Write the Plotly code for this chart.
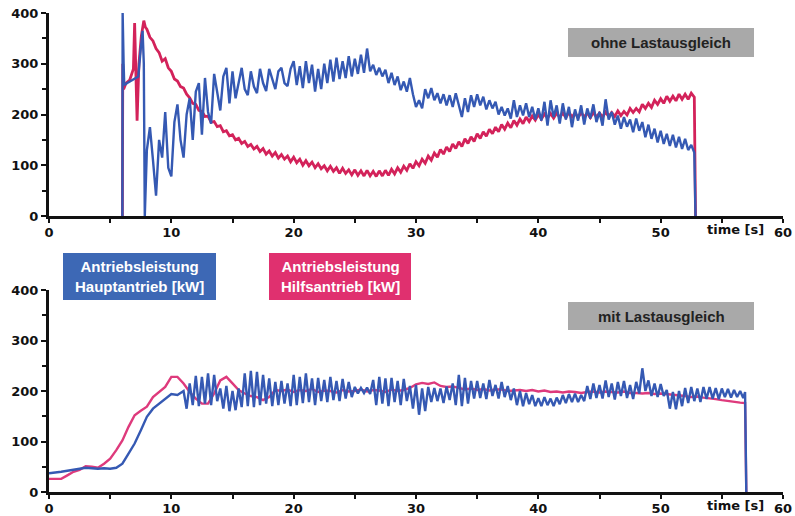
import plotly.graph_objects as go

# ---------------- data ----------------
# Top panel (ohne Lastausgleich)
top_blue_start_t = [6.0, 6.02, 6.1, 6.15, 6.4, 6.7, 7.0, 7.3, 7.5, 7.65, 7.75, 7.83]
top_blue_start_y = [0, 400, 300, 258, 262, 266, 270, 275, 330, 365, 300, 0]
# sampled every 0.25 s from 8.0 s
top_blue_main = [
    130, 175, 110, 40,   150, 115, 205, 95,   78, 185, 220, 150,
    115, 200, 232, 150,  245, 262, 160, 272,  205, 182, 280, 240,
    208, 275, 292, 222,  285, 232, 262, 292,  250, 238, 285, 255,
    242, 290, 262, 246,  290, 268, 250, 285,  292, 262, 256, 290,
    305, 258, 295, 252,  305, 262, 298, 245,  290, 250, 300, 262,
    308, 265, 312, 270,  305, 272, 315, 275,  310, 280, 318, 282,
    330, 285, 298, 278,  292, 275, 288, 262,  282, 258, 275, 248,
    265, 245, 272, 240,  215, 228, 212, 250,  232, 252, 228, 242,
    222, 240, 218, 238,  215, 242, 220, 195,  232, 205, 238, 215,
    240, 218, 235, 210,  228, 212, 225, 200,  215, 198, 212, 192,
    228, 195, 218, 198,  222, 195, 215, 190,  212, 188, 225, 178,
    228, 195, 218, 182,  222, 190, 215, 175,  210, 188, 218, 180,
    212, 192, 220, 185,  205, 178, 230, 190,  205, 180, 198, 172,
    195, 176, 190, 165,  192, 168, 185, 155,  180, 152, 172, 145,
    168, 142, 162, 138,  160, 135, 156, 132,  152, 130, 140, 125,
]
top_blue_end_t = [52.85]
top_blue_end_y = [0]

top_pink_start_t = [6.0, 6.03, 6.1, 6.3, 6.6, 6.9, 7.0, 7.1, 7.2, 7.35, 7.55, 7.75, 7.88]
top_pink_start_y = [0, 300, 250, 262, 268, 290, 380, 300, 188, 300, 355, 385, 372]
top_pink_main = [
    368, 352, 345, 330,  322, 305, 310, 292,  285, 270, 266, 255,
    252, 240, 233, 222,  220, 208, 206, 196,  197, 185, 186, 176,
    178, 166, 168, 158,  160, 150, 153, 143,  147, 137, 141, 132,
    137, 127, 133, 122,  128, 118, 125, 114,  121, 112, 118, 107,
    116, 105, 112, 100,  109, 99, 106, 95,    103, 93, 99, 89,
    98, 88, 95, 84,      94, 84, 91, 81,      91, 80, 89, 79,
    90, 79, 88, 78,      89, 79, 90, 80,      92, 83, 95, 86,
    98, 90, 103, 94,     107, 99, 112, 104,   118, 110, 124, 116,
    131, 122, 136, 127,  142, 133, 146, 137,  152, 143, 156, 147,
    162, 153, 166, 157,  171, 162, 175, 166,  180, 171, 183, 174,
    188, 179, 191, 182,  195, 186, 197, 189,  200, 191, 201, 193,
    202, 193, 203, 194,  203, 194, 204, 195,  203, 194, 204, 195,
    203, 194, 204, 195,  203, 195, 205, 196,  204, 196, 207, 198,
    206, 199, 212, 204,  212, 205, 220, 212,  222, 214, 228, 220,
    231, 222, 236, 226,  236, 227, 240, 230,  240, 230, 242, 234,
]
top_pink_end_t = [52.85]
top_pink_end_y = [0]

# Bottom panel (mit Lastausgleich)
# sampled every 0.5 s from 0 s
bot_blue_start = [37, 38, 40, 42, 44, 47, 48, 47, 46, 47, 46,
                  48, 56, 76, 96, 122, 149, 165, 175, 185, 194, 192]
# sampled every 0.25 s from 11.0 s
bot_blue_main = [
    200, 165, 215, 172,  230, 170, 228, 175,  235, 172, 232, 180,
    205, 165, 210, 160,  200, 162, 205, 168,  235, 170, 240, 168,
    238, 172, 232, 175,  225, 170, 218, 172,  220, 175, 215, 170,
    232, 172, 228, 176,  235, 178, 225, 172,  226, 180, 222, 178,
    228, 182, 220, 180,  224, 185, 218, 188,  208, 195, 206, 196,
    207, 194, 222, 172,  228, 175, 225, 170,  226, 178, 220, 172,
    224, 180, 210, 165,  212, 153, 205, 160,  208, 178, 206, 180,
    205, 176, 209, 182,  215, 172, 232, 170,  226, 175, 220, 185,
    220, 186, 215, 184,  222, 190, 212, 185,  218, 188, 210, 182,
    205, 172, 200, 170,  196, 174, 192, 170,  186, 170, 188, 172,
    185, 170, 187, 174,  192, 176, 194, 178,  195, 178, 192, 180,
    210, 184, 215, 186,  212, 185, 221, 188,  215, 183, 218, 190,
    220, 186, 212, 184,  218, 195, 245, 200,  221, 190, 215, 188,
    214, 190, 202, 165,  198, 164, 200, 170,  206, 176, 208, 180,
    205, 178, 208, 184,  208, 185, 206, 184,  205, 188, 204, 187,
    202, 188, 200, 186,
]
bot_blue_end_t = [56.9, 57.0]
bot_blue_end_y = [198, 0]

# sampled every 0.5 s from 0 s
bot_pink_main = [
    26, 26, 26, 33, 40, 44, 51, 50, 48, 56, 66, 83, 102, 129, 152, 161,
    169, 188, 198, 208, 228, 228, 215, 198, 185, 175, 175, 195, 221, 228,
    215, 202, 195, 190, 188, 182, 188, 202, 200, 203, 198, 202, 200, 204,
    198, 201, 200, 197, 202, 199, 200, 203, 199, 202, 201, 198, 203, 200,
    202, 206, 213, 216, 214, 217, 210, 208, 209, 206, 203, 205, 202, 204,
    201, 203, 203, 200, 201, 202, 200, 202, 199, 201, 198, 199, 197, 199,
    198, 196, 198, 199, 197, 199, 198, 197, 199, 196, 196, 195, 196, 194,
    195, 194, 193, 192, 190, 188, 189, 187, 186, 184, 182, 180, 179, 177,
]
bot_pink_end_t = [56.9, 57.0]
bot_pink_end_y = [176, 0]

x_tick_vals = [0, 10, 20, 30, 40, 50, 60]
x_tick_text = ["0", "10", "20", "30", "40", "50", "60"]
y_tick_vals = [0, 100, 200, 300, 400]

# ---------------- series assembly ----------------
def grid(t0, dt, n):
    return [t0 + dt * i for i in range(n)]

tb_x = top_blue_start_t + grid(8.0, 0.25, len(top_blue_main)) + top_blue_end_t
tb_y = top_blue_start_y + top_blue_main + top_blue_end_y
tp_x = top_pink_start_t + grid(8.0, 0.25, len(top_pink_main)) + top_pink_end_t
tp_y = top_pink_start_y + top_pink_main + top_pink_end_y
bb_x = grid(0.0, 0.5, len(bot_blue_start)) + grid(11.0, 0.25, len(bot_blue_main)) + bot_blue_end_t
bb_y = bot_blue_start + bot_blue_main + bot_blue_end_y
bp_x = grid(0.0, 0.5, len(bot_pink_main)) + bot_pink_end_t
bp_y = bot_pink_main + bot_pink_end_y

BLUE = "#3559b3"
PINK_TOP = "#d3225a"
PINK_BOT = "#de3a7c"

fig = go.Figure()
fig.add_trace(go.Scatter(x=tp_x, y=tp_y, mode="lines", line=dict(color=PINK_TOP, width=2.8),
                         xaxis="x", yaxis="y", showlegend=False))
fig.add_trace(go.Scatter(x=tb_x, y=tb_y, mode="lines", line=dict(color=BLUE, width=2.4),
                         xaxis="x", yaxis="y", showlegend=False))
fig.add_trace(go.Scatter(x=bp_x, y=bp_y, mode="lines", line=dict(color=PINK_BOT, width=2.4),
                         xaxis="x2", yaxis="y2", showlegend=False))
fig.add_trace(go.Scatter(x=bb_x, y=bb_y, mode="lines", line=dict(color=BLUE, width=2.4),
                         xaxis="x2", yaxis="y2", showlegend=False))

W, H = 795, 516
ML, MR, MT, MB = 49, 12, 10, 10
PW, PH = W - ML - MR, H - MT - MB

def px(xp):
    return (xp - ML) / PW

def py(yp):
    return (H - MB - yp) / PH

tickfont = dict(family="DejaVu Sans", size=13, color="#111111", weight="bold")

def xaxis_cfg(anchor):
    return dict(domain=[0, 1], range=[0, 60], anchor=anchor, automargin=False,
                showline=True, linewidth=3, linecolor="#111111",
                showgrid=False, zeroline=False,
                tickmode="array", tickvals=x_tick_vals, ticktext=x_tick_text,
                ticks="outside", ticklen=2, tickwidth=2, tickcolor="#111111",
                minor=dict(dtick=5, tick0=0, ticks="outside", ticklen=4, tickwidth=2,
                           tickcolor="#111111", showgrid=False),
                tickfont=tickfont, fixedrange=True)

def yaxis_cfg(anchor, dom):
    return dict(domain=dom, range=[0, 400], anchor=anchor, automargin=False,
                showline=True, linewidth=3, linecolor="#111111",
                showgrid=False, zeroline=False,
                tickmode="array", tickvals=y_tick_vals,
                ticks="outside", ticklen=5, tickwidth=2, tickcolor="#111111",
                minor=dict(dtick=50, tick0=0, ticks="outside", ticklen=4, tickwidth=2,
                           tickcolor="#111111", showgrid=False),
                tickfont=tickfont, fixedrange=True)

top_dom = [py(216), py(13)]
bot_dom = [py(492), py(290)]

fig.update_layout(
    width=W, height=H,
    margin=dict(l=ML, r=MR, t=MT, b=MB, autoexpand=False),
    paper_bgcolor="white", plot_bgcolor="white",
    xaxis=xaxis_cfg("y"),
    yaxis=yaxis_cfg("x", top_dom),
    xaxis2=xaxis_cfg("y2"),
    yaxis2=yaxis_cfg("x2", bot_dom),
)

shapes = []
annotations = []

def box(x0, y0, x1, y1, color, text, fcolor, size):
    shapes.append(dict(type="rect", xref="paper", yref="paper",
                       x0=px(x0), x1=px(x1), y0=py(y1), y1=py(y0),
                       fillcolor=color, line=dict(width=0), layer="above"))
    annotations.append(dict(xref="paper", yref="paper", x=px((x0 + x1) / 2), y=py((y0 + y1) / 2),
                            text=text, showarrow=False, xanchor="center", yanchor="middle",
                            font=dict(family="Liberation Sans", size=size, color=fcolor, weight="bold"),
                            align="center"))

box(568, 28, 754, 57, "#a9a9a9", "ohne Lastausgleich", "#222222", 15)
box(568, 302, 754, 330, "#a9a9a9", "mit Lastausgleich", "#222222", 15)
box(63, 253, 216, 300, "#3d68b5", "Antriebsleistung<br>Hauptantrieb [kW]", "white", 15)
box(269, 253, 411, 300, "#e0306f", "Antriebsleistung<br>Hilfsantrieb [kW]", "white", 15)

for yp in (229, 505):
    annotations.append(dict(xref="paper", yref="paper", x=px(735), y=py(yp),
                            text="time [s]", showarrow=False, xanchor="center", yanchor="middle",
                            font=tickfont))

fig.update_layout(shapes=shapes, annotations=annotations)

fig.write_html(
    "out.html",
    config={"displayModeBar": False},
    post_script="document.body.style.margin='0';document.body.style.overflow='hidden';",
)
